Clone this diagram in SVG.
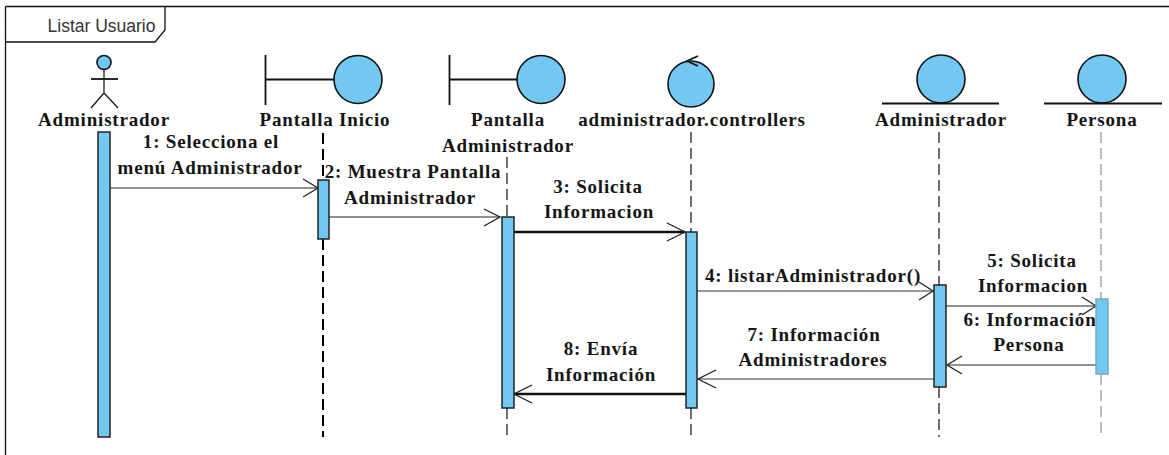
<svg xmlns="http://www.w3.org/2000/svg" width="1169" height="455" viewBox="0 0 1169 455">
<style>
text{font-family:"Liberation Serif","Times New Roman",serif;font-weight:bold;font-size:19px;fill:#151515;text-anchor:middle;letter-spacing:.8px}
.title{font-family:"Liberation Sans",Arial,sans-serif;font-weight:normal;font-size:17.500px;letter-spacing:0;fill:#333}
.frame{fill:none;stroke:#111;stroke-width:1.3}
.shape{fill:#72c8f0;stroke:#111;stroke-width:1.6}
.bar{fill:#72c8f0;stroke:#222;stroke-width:1.5}
.stem{fill:none;stroke:#111;stroke-width:1.8}
.thin{fill:none;stroke:#111;stroke-width:1.2}
.life{fill:none;stroke:#222;stroke-width:1.3;stroke-dasharray:11 5}
.msg{fill:none;stroke:#222;stroke-width:1.2}
.grey{fill:none;stroke:#777;stroke-width:1.4}
.thick{fill:none;stroke:#111;stroke-width:2.4}
.head{fill:none;stroke:#222;stroke-width:1.3}
</style>
<rect width="1169" height="455" fill="#fff"/>
<g id="frame">
<path class="frame" d="M5.500 6.500H1169M5.500 6.500V455M5.500 42H155L165 30V6.500"/>
<text class="title" x="101.500" y="32">Listar Usuario</text>
</g>
<g id="connectors">
<path class="life" style="stroke:#000;stroke-width:2" d="M323 133V180M323 239V437"/>
<path class="life" d="M507 157V217M507 408V437"/>
<path class="life" d="M691 132V232M691 408V437"/>
<path class="life" d="M939 132V285M939 387V437"/>
<path class="life" style="stroke:#999" d="M1101 132V299M1101 374V437"/>
<path class="msg" d="M110 188H318"/><path class="head" d="M303 179L318 188L303 197"/>
<path class="msg" d="M329 217H500"/><path class="head" d="M484 209L500 217L484 226"/>
<path class="thick" d="M514 232H685"/><path class="head" d="M667 223L685 232L667 241"/>
<path class="grey" d="M697 291H933"/><path class="head" d="M919 282L933 291L919 300"/>
<path class="msg" d="M946 306H1096"/><path class="head" d="M1082 297L1096 306L1082 315"/>
<path class="msg" d="M1096 365H947"/><path class="head" d="M962 356L947 365L962 374"/>
<path class="grey" d="M934 379H698"/><path class="head" d="M716 370L698 379L716 388"/>
<path class="thick" d="M686 394H514"/><path class="head" d="M532 385L514 394L532 403"/>
<text x="211" y="148">1: Selecciona el</text>
<text x="210" y="174">menú Administrador</text>
<text x="413" y="178">2: Muestra Pantalla</text>
<text x="410" y="204">Administrador</text>
<text x="598" y="193">3: Solicita</text>
<text x="599" y="218">Informacion</text>
<text x="813" y="282">4: listarAdministrador()</text>
<text x="1032" y="267">5: Solicita</text>
<text x="1033" y="292">Informacion</text>
<text x="1030" y="326">6: Información</text>
<text x="1029" y="351">Persona</text>
<text x="814" y="341">7: Información</text>
<text x="813" y="366">Administradores</text>
<text x="601" y="355">8: Envía</text>
<text x="601" y="381">Información</text>
</g>
<g id="actor-administrador">
<circle class="shape" cx="104" cy="62.500" r="7"/>
<path class="thin" d="M104 70V93M91 108L104 93L118 108"/>
<path class="stem" d="M91 79H118"/>
<rect class="bar" x="98" y="132" width="12" height="305"/>
<text x="104" y="126">Administrador</text>
</g>
<g id="boundary-pantalla-inicio">
<path class="stem" d="M265.500 55V105M265.500 79.500H334"/>
<circle class="shape" cx="358" cy="79.500" r="24"/>
<rect class="bar" x="318" y="180" width="11" height="59"/>
<text x="325" y="126">Pantalla Inicio</text>
</g>
<g id="boundary-pantalla-administrador">
<path class="stem" d="M449.500 55V105M449.500 79.500H517"/>
<circle class="shape" cx="541" cy="79.500" r="24"/>
<rect class="bar" x="502" y="217" width="12" height="191"/>
<text x="508" y="126">Pantalla</text>
<text x="508" y="152">Administrador</text>
</g>
<g id="control-administrador-controllers">
<circle class="shape" cx="691" cy="84" r="23"/>
<path class="stem" d="M698 56L687 61L698 66"/>
<rect class="bar" x="686" y="232" width="11" height="176"/>
<text x="692" y="126">administrador.controllers</text>
</g>
<g id="entity-administrador">
<circle class="shape" cx="941" cy="79" r="24"/>
<path class="stem" d="M882 103.500H999"/>
<rect class="bar" x="934" y="285" width="12" height="102"/>
<text x="941" y="126">Administrador</text>
</g>
<g id="entity-persona">
<circle class="shape" cx="1102" cy="79" r="24"/>
<path class="stem" d="M1044 103.500H1162"/>
<rect class="bar" style="stroke:#7ab" x="1096" y="299" width="12" height="75"/>
<text x="1102" y="126">Persona</text>
</g>
</svg>
